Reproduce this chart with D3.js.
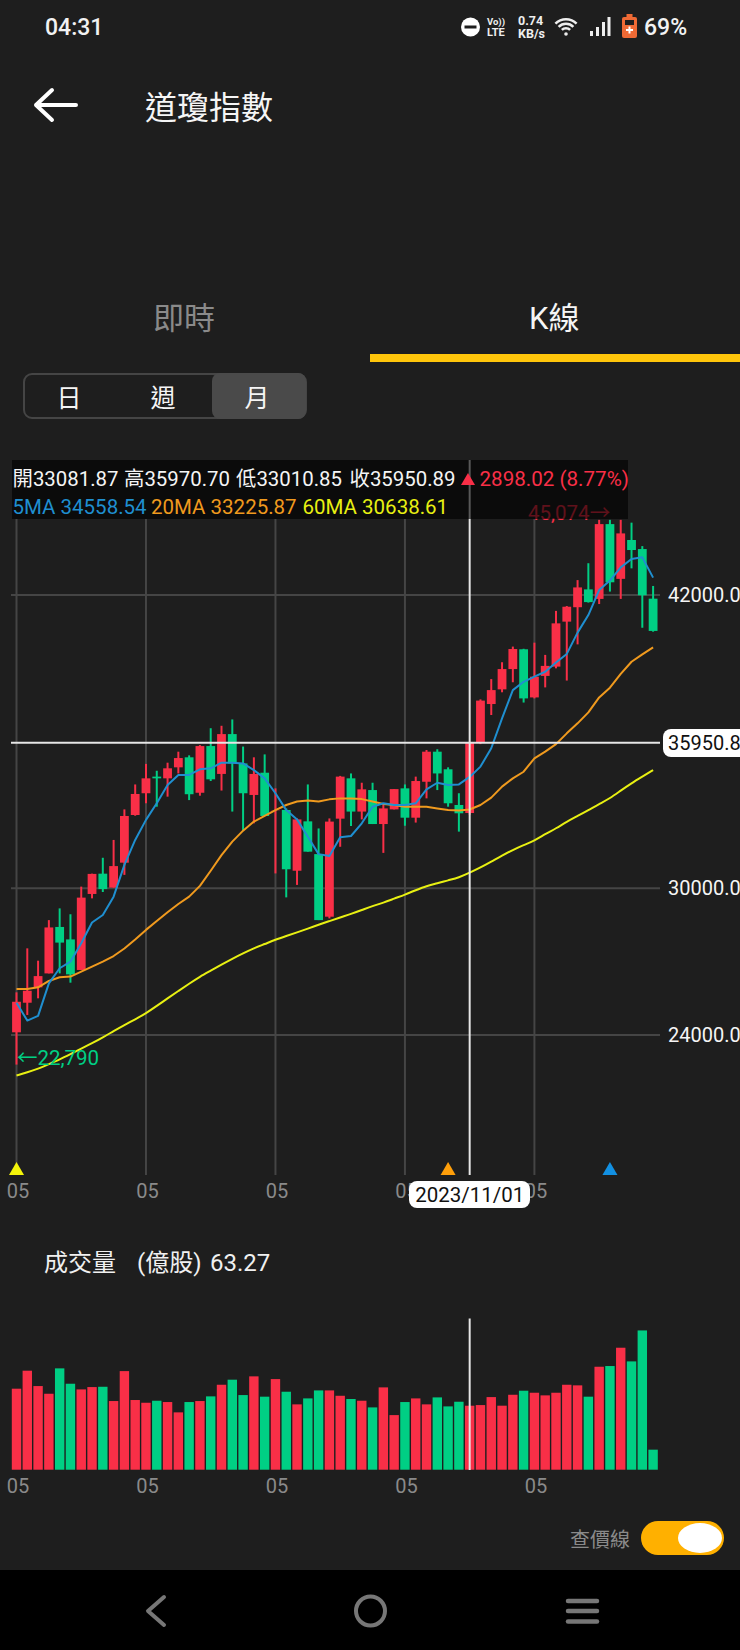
<!DOCTYPE html>
<html lang="zh-Hant"><head><meta charset="utf-8">
<script src="https://d3js.org/d3.v7.min.js"></script>
<style>
html,body{margin:0;padding:0;background:#1e1e1e;overflow:hidden}
svg{display:block}
text{font-family:Roboto,"Noto Sans CJK TC",sans-serif}
</style></head><body><div id="chart"></div>
<script>
const opens=[24110,25320,25950,26520,28420,27910,26660,29770,30600,30030,31050,33000,33890,34570,34500,34950,35360,33910,35820,34680,36310,35110,33820,34730,33190,33205,30720,32740,31400,28840,32850,34500,33140,34020,32630,33230,34090,32890,34360,35590,34870,33410,33081.87,35950,37540,38140,38970,39780,37810,38690,39070,40910,41500,42230,41840,44900,42660,44250,43880,41850];
const highs=[25745,27545,27040,28700,29180,28940,30070,30600,31250,31980,33230,34250,35090,34810,35140,35590,35440,35860,36550,36650,36910,35800,35360,35480,34090,33270,32860,34250,32450,32860,34600,34700,34320,34320,33410,34060,34250,34570,35660,35690,34950,33890,35970.70,37730,38560,39250,39890,39800,40050,39550,41350,41550,42610,43300,45074,45074,45074,44960,44000,42370];
const lows=[22790,24820,25500,26520,26520,26140,26660,29590,29850,30030,30550,32970,33480,33340,33750,34700,33610,33790,34390,34000,33140,32360,32660,32960,30610,29630,30140,31500,28700,28770,31700,32550,32820,32630,31450,33230,32560,32690,33680,34020,33340,32320,33010.85,35900,37090,38020,38430,37600,37770,38220,39000,38500,39980,41690,41630,42140,41840,43090,40660,40500];
const closes=[25360,25810,26410,28400,27780,26480,29620,30590,29970,30910,32960,33860,34500,34500,34910,35330,33850,35820,34460,36310,35110,33890,34680,32960,33200,30780,32820,31500,28700,32730,34570,33140,34050,32630,33270,34060,32890,34390,35590,34700,33480,33070,35950.89,37680,38110,38970,39790,37770,38660,39100,40840,41520,42310,41710,44900,42520,44520,43840,41990,40530];
const ma5=[25320,24590,24780,26110,26730,27000,27750,28600,28910,29660,30960,31980,32800,33480,34230,34640,34640,34870,34910,35140,35140,35110,34840,34500,33890,33200,32820,32110,31400,31320,32090,32140,32660,33340,33480,33410,33410,33480,34050,34320,34230,34250,34558.54,34980,35730,36950,38110,38450,38660,38860,39240,39590,40460,41180,42200,42590,43130,43470,43540,42710];
const ma20=[25880,25880,25950,26210,26360,26390,26590,26800,27000,27230,27540,27910,28300,28660,29020,29360,29660,30100,30720,31360,31910,32360,32730,32960,33200,33410,33550,33590,33550,33640,33680,33680,33650,33550,33450,33410,33340,33340,33340,33270,33200,33180,33225.87,33410,33710,34160,34500,34770,35320,35590,35900,36340,36750,37200,37810,38210,38770,39270,39570,39860];
const ma60=[22340,22470,22620,22810,23000,23220,23440,23660,23900,24160,24410,24640,24890,25190,25500,25800,26100,26390,26630,26880,27120,27340,27550,27720,27900,28050,28200,28350,28510,28660,28810,28950,29110,29280,29410,29580,29740,29920,30100,30200,30330,30440,30638.61,30850,31090,31340,31570,31770,31950,32220,32450,32730,32960,33200,33450,33680,34000,34300,34570,34840];
const volumes=[80.1,97.9,82.7,75.1,100.2,85.0,79.4,81.7,82.0,67.9,97.5,68.9,66.2,68.2,66.9,56.7,66.9,67.9,72.5,84.0,89.0,73.8,92.3,72.2,89.6,77.1,64.6,70.5,78.4,78.4,73.1,69.9,68.2,61.6,81.4,54.0,66.9,70.5,64.6,71.5,62.6,67.2,63.27,63.9,71.8,63.3,74.1,78.1,76.1,73.5,76.1,84.0,83.4,72.2,101.8,102.5,120.6,107.1,137.7,19.8];
const yTicks=[24000,30000,42000];
const xTickIdx=[0,12,24,36,48];
const xTickLabel="05";
const selIdx=42, selDate="2023/11/01";
const periodMarks=[{back:60,color:"#f4f40a"},{back:20,color:"#ff9f0a"},{back:5,color:"#1290e2"}];
const maxLabel="45,074→", minLabel="←22,790";

const RED="#f92f47",GREEN="#00cf84",BG="#1e1e1e",GRID="#454545",GREY="#8a8a8a";
const svg=d3.select("#chart").append("svg").attr("width",740).attr("height",1650);
svg.append("rect").attr("width",740).attr("height",1650).attr("fill",BG);
const T=(g,s,x,y,size,fill,anchor)=>g.append("text").attr("x",x).attr("y",y).attr("font-size",size).attr("fill",fill).attr("text-anchor",anchor||"start").text(s);

/* status bar */
const sb=svg.append("g");
T(sb,"04:31",45,35,23,"#f2f2f2").attr("font-weight",500);
sb.append("circle").attr("cx",470.5).attr("cy",27).attr("r",9.5).attr("fill","#fff");
sb.append("rect").attr("x",464.5).attr("y",25.5).attr("width",12).attr("height",3).attr("fill","#1e1e1e");
T(sb,"Vo))",487,25,9.5,"#eee").attr("font-weight",700);
T(sb,"LTE",487,36,11,"#eee").attr("font-weight",700);
T(sb,"0.74",518,25,12.5,"#eee").attr("font-weight",700);
T(sb,"KB/s",518,38,12.5,"#eee").attr("font-weight",700);
[[4.5,2.5],[9,2.5],[13.5,2.5]].forEach(([r,w])=>sb.append("path").attr("d",d3.arc()({innerRadius:r,outerRadius:r+w,startAngle:-0.8,endAngle:0.8})).attr("transform","translate(566,34)").attr("fill","#eee"));
sb.append("circle").attr("cx",566).attr("cy",34).attr("r",1.8).attr("fill","#eee");
[[590,3,5],[596,3,9],[602,3,14],[607.5,3,19]].forEach(([x,w,h])=>sb.append("rect").attr("x",x).attr("y",36-h).attr("width",w).attr("height",h).attr("fill","#eee"));
sb.append("rect").attr("x",622).attr("y",17).attr("width",15).attr("height",21).attr("rx",2).attr("fill","#ef6a35");
sb.append("rect").attr("x",626.5).attr("y",14).attr("width",6).attr("height",3).attr("fill","#ef6a35");
sb.append("rect").attr("x",625).attr("y",20).attr("width",9).attr("height",5).attr("fill","#1e1e1e");
sb.append("path").attr("d","M626 30h7M629.5 26.5v7").attr("stroke","#fff").attr("stroke-width",2);
T(sb,"69%",644,35,23,"#f2f2f2").attr("font-weight",500);

/* header */
svg.append("path").attr("d","M76 105H36M52 90L36 105L52 120").attr("fill","none").attr("stroke","#fff").attr("stroke-width",4).attr("stroke-linecap","round").attr("stroke-linejoin","round");
T(svg,"道瓊指數",145,119,32,"#f5f5f5");
T(svg,"即時",153,329,31,"#8a8a8a");
T(svg,"K線",529,329,31,"#f5f5f5");
svg.append("rect").attr("x",370).attr("y",354).attr("width",370).attr("height",8).attr("fill","#ffc60b");
svg.append("rect").attr("x",24).attr("y",374).attr("width",282).attr("height",44).attr("rx",8).attr("fill","none").attr("stroke","#454545").attr("stroke-width",2);
svg.append("path").attr("d","M220 373H298a8 8 0 0 1 8 8V411a8 8 0 0 1 -8 8H220a8 8 0 0 1 -8 -8V381a8 8 0 0 1 8 -8Z").attr("fill","#4a4a4a");
T(svg,"日",69,407,25,"#f5f5f5","middle");
T(svg,"週",163,407,25,"#f5f5f5","middle");
T(svg,"月",257,407,25,"#f5f5f5","middle");

/* scales */
const x=d3.scaleLinear().domain([0,59]).range([16.5,653.1]);
const y=d3.scaleLinear().domain([24000,42000]).range([1035,595]);
const yV=d3.scaleLinear().domain([0,150]).range([1469.7,1318]);
const idx=d3.range(opens.length);

/* grid */
const grid=svg.append("g").attr("stroke",GRID).attr("stroke-width",2);
grid.selectAll("line.v").data(xTickIdx).join("line").attr("class","v").attr("x1",d=>x(d)).attr("x2",d=>x(d)).attr("y1",519).attr("y2",1175);
grid.selectAll("line.h").data(yTicks).join("line").attr("class","h").attr("x1",11).attr("x2",660).attr("y1",d=>y(d)).attr("y2",d=>y(d));

/* period markers */
svg.selectAll("path.mark").data(periodMarks).join("path").attr("class","mark")
 .attr("d",d=>{const c=x(opens.length-d.back);return `M${c-7.5} 1175L${c} 1162L${c+7.5} 1175Z`;}).attr("fill",d=>d.color);

/* candles */
const col=i=>closes[i]>=opens[i]?RED:GREEN;
const candle=svg.append("g");
candle.selectAll("line").data(idx).join("line").attr("x1",i=>x(i)).attr("x2",i=>x(i)).attr("y1",i=>y(highs[i])).attr("y2",i=>y(lows[i])).attr("stroke",col).attr("stroke-width",2);
candle.selectAll("rect").data(idx).join("rect").attr("x",i=>x(i)-4.4).attr("width",8.8)
 .attr("y",i=>y(Math.max(opens[i],closes[i]))).attr("height",i=>Math.abs(y(opens[i])-y(closes[i]))).attr("fill",col);

/* moving averages */
const lineOf=c=>d3.line().x((d,i)=>x(i)).y(d=>y(d)).curve(c);
[[ma60,"#e8f012",d3.curveBasis],[ma20,"#f09a1e",d3.curveLinear],[ma5,"#1f8fd0",d3.curveLinear]].forEach(([s,c,k])=>svg.append("path").attr("d",lineOf(k)(s)).attr("fill","none").attr("stroke",c).attr("stroke-width",2).attr("stroke-linejoin","round"));

/* min / max labels */
T(svg,maxLabel,528,520,20.5,RED);
T(svg,minLabel,17,1065,20.5,GREEN);

/* crosshair */
const hair=svg.append("g").attr("stroke","#e6e6e6").attr("stroke-width",2);
hair.append("line").attr("x1",x(selIdx)).attr("x2",x(selIdx)).attr("y1",460).attr("y2",1175);
hair.append("line").attr("x1",11).attr("x2",660).attr("y1",y(closes[selIdx])).attr("y2",y(closes[selIdx]));

/* info box */
svg.append("rect").attr("x",12).attr("y",460).attr("width",616).attr("height",59).attr("fill","#000").attr("fill-opacity",0.62);
const fmt=d3.format(".2f");
[["開",opens,12.5],["高",highs,124],["低",lows,236],["收",closes,349.5]].forEach(([k,s,px])=>T(svg,k+fmt(s[selIdx]),px,486,20.4,"#f5f5f5"));
svg.append("path").attr("d","M461 485L468 473L475 485Z").attr("fill",RED);
T(svg,"2898.02 (8.77%)",479.5,486,20.6,RED);
T(svg,"5MA "+fmt(ma5[selIdx]),12.5,514,20.5,"#1f8fd0");
T(svg,"20MA "+fmt(ma20[selIdx]),151,514,20.5,"#f09a1e");
T(svg,"60MA "+fmt(ma60[selIdx]),302.5,514,20.5,"#e8f012");

/* y axis */
const ya=svg.append("g").attr("transform","translate(668,0)").call(d3.axisRight(y).tickValues(yTicks).tickFormat(fmt).tickSize(0).tickPadding(0));
ya.select(".domain").remove();
ya.selectAll("text").attr("font-size",20).attr("font-family",null).attr("fill","#f5f5f5");
svg.append("rect").attr("x",663).attr("y",729).attr("width",90).attr("height",28).attr("rx",8).attr("fill","#fff");
T(svg,fmt(closes[selIdx]),668,750,20,"#111");

/* x axes */
function xAxis(tr){
  const g=svg.append("g").attr("transform",tr).call(d3.axisBottom(x).tickValues(xTickIdx).tickFormat(()=>xTickLabel).tickSize(0).tickPadding(0));
  g.select(".domain").remove();
  g.selectAll("text").attr("font-size",20).attr("font-family",null).attr("fill",GREY).attr("x",1).attr("y",0).attr("dy",0);
}
xAxis("translate(0,1198)");
xAxis("translate(0,1493)");
svg.append("rect").attr("x",409).attr("y",1181).attr("width",121).attr("height",27).attr("rx",8).attr("fill","#fff");
T(svg,selDate,x(selIdx),1202,20.5,"#111","middle");

/* volume */
T(svg,"成交量",44,1271,24,"#f0f0f0");
T(svg,"(億股)",137,1271,24,"#f0f0f0");
T(svg,fmt(volumes[selIdx]),210,1271,24,"#f0f0f0");
svg.append("g").selectAll("rect").data(idx).join("rect").attr("x",i=>x(i)-4.7).attr("width",9.4)
 .attr("y",i=>yV(volumes[i])).attr("height",i=>yV(0)-yV(volumes[i])).attr("fill",col);
svg.append("line").attr("x1",x(selIdx)).attr("x2",x(selIdx)).attr("y1",1318.5).attr("y2",1470).attr("stroke","#e6e6e6").attr("stroke-width",2);

/* toggle + nav */
T(svg,"查價線",570,1547,20,"#8a8a8a");
svg.append("rect").attr("x",641).attr("y",1521).attr("width",83).attr("height",34).attr("rx",17).attr("fill","#ffb000");
svg.append("ellipse").attr("cx",700).attr("cy",1538).attr("rx",22).attr("ry",15).attr("fill","#fff");
svg.append("rect").attr("y",1570).attr("width",740).attr("height",80).attr("fill","#000");
svg.append("path").attr("d","M164 1597L148 1611L164 1625").attr("fill","none").attr("stroke","#777").attr("stroke-width",4).attr("stroke-linecap","round").attr("stroke-linejoin","round");
svg.append("circle").attr("cx",370.5).attr("cy",1611).attr("r",14.5).attr("fill","none").attr("stroke","#777").attr("stroke-width",4);
[1601,1611,1621.5].forEach(v=>svg.append("line").attr("x1",568).attr("x2",597).attr("y1",v).attr("y2",v).attr("stroke","#777").attr("stroke-width",4.5).attr("stroke-linecap","round"));
</script></body></html>
